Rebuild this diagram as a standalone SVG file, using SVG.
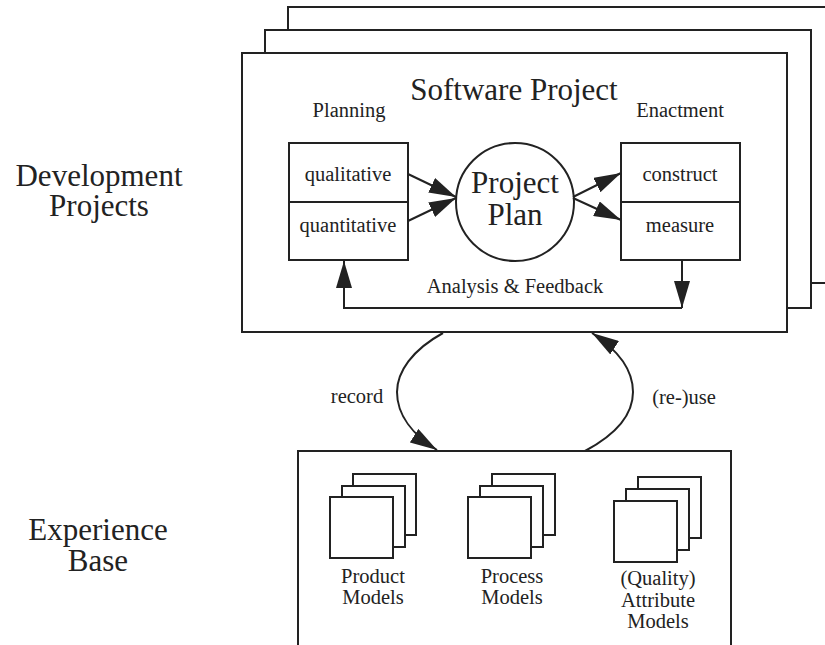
<svg xmlns="http://www.w3.org/2000/svg" width="825" height="645" viewBox="0 0 825 645">
  <defs>
    <style>
      .box { fill: #fff; stroke: #222; stroke-width: 2; }
      .line { fill: none; stroke: #222; stroke-width: 2; }
      text { fill: #222; text-anchor: middle; }
      .big { font-size: 31px; }
      .mid { font-size: 20.5px; }
    </style>
    <marker id="head" markerUnits="userSpaceOnUse" markerWidth="28" markerHeight="16" refX="27" refY="8" orient="auto">
      <path d="M0,0 L27,8 L0,16 z" fill="#222"/>
    </marker>
  </defs>
  <rect width="825" height="645" fill="#fff"/>

  <g font-family="'Liberation Serif', 'DejaVu Serif', serif">
  <!-- side captions -->
  <g id="caption-development">
    <text class="big" x="99" y="186">Development</text>
    <text class="big" x="99" y="216">Projects</text>
  </g>
  <g id="caption-experience">
    <text class="big" x="98" y="540">Experience</text>
    <text class="big" x="98" y="571">Base</text>
  </g>

  <!-- stacked project frames -->
  <g id="project-stack">
    <rect class="box" x="288" y="7" width="560" height="276"/>
    <rect class="box" x="265" y="30" width="546" height="278"/>
  </g>

  <g id="software-project">
    <rect class="box" x="242" y="53" width="545" height="279"/>
    <text class="big" x="514" y="100">Software Project</text>
    <text class="mid" x="349" y="117">Planning</text>
    <text class="mid" x="680" y="117">Enactment</text>
    <text class="mid" x="515" y="293">Analysis &amp; Feedback</text>
  </g>

  <g id="planning">
    <rect class="box" x="289" y="143" width="119" height="117"/>
    <line class="line" x1="289" y1="202" x2="408" y2="202"/>
    <text class="mid" x="348" y="181">qualitative</text>
    <text class="mid" x="348" y="232">quantitative</text>
  </g>

  <g id="project-plan">
    <circle class="box" cx="515" cy="202" r="59"/>
    <text class="big" x="515" y="193">Project</text>
    <text class="big" x="515" y="225">Plan</text>
  </g>

  <g id="enactment">
    <rect class="box" x="621" y="143" width="119" height="117"/>
    <line class="line" x1="621" y1="202" x2="740" y2="202"/>
    <text class="mid" x="680" y="181">construct</text>
    <text class="mid" x="680" y="232">measure</text>
  </g>

  <g id="experience-base">
    <path class="box" d="M298,660 V451 H731 V660"/>
    <g id="product-models">
      <rect class="box" x="353" y="474" width="63" height="61"/>
      <rect class="box" x="342" y="486" width="63" height="61"/>
      <rect class="box" x="330" y="497" width="63" height="61"/>
      <text class="mid" x="373" y="583">Product</text>
      <text class="mid" x="373" y="604">Models</text>
    </g>
    <g id="process-models">
      <rect class="box" x="492" y="474" width="63" height="61"/>
      <rect class="box" x="480" y="486" width="63" height="61"/>
      <rect class="box" x="468" y="497" width="63" height="61"/>
      <text class="mid" x="512" y="583">Process</text>
      <text class="mid" x="512" y="604">Models</text>
    </g>
    <g id="attribute-models">
      <rect class="box" x="638" y="477" width="63" height="61"/>
      <rect class="box" x="626" y="489" width="63" height="61"/>
      <rect class="box" x="614" y="501" width="63" height="61"/>
      <text class="mid" x="658" y="585">(Quality)</text>
      <text class="mid" x="658" y="607">Attribute</text>
      <text class="mid" x="658" y="628">Models</text>
    </g>
  </g>

  <g id="connectors">
    <line class="line" x1="408" y1="174" x2="456" y2="197" marker-end="url(#head)"/>
    <line class="line" x1="408" y1="221" x2="456" y2="198" marker-end="url(#head)"/>
    <line class="line" x1="573" y1="197" x2="621" y2="173" marker-end="url(#head)"/>
    <line class="line" x1="573" y1="198" x2="621" y2="220" marker-end="url(#head)"/>
    <line class="line" x1="682" y1="260" x2="682" y2="308" marker-end="url(#head)"/>
    <path class="line" d="M682,308 H344 V261" marker-end="url(#head)"/>
    <path class="line" d="M443,333 C412,350 397,372 397,392 C397,415 413,435 437,450" marker-end="url(#head)"/>
    <path class="line" d="M585,451 C615,435 633,415 633,392 C633,368 615,348 592,333" marker-end="url(#head)"/>
    <text class="mid" x="357" y="403">record</text>
    <text class="mid" x="684" y="404">(re-)use</text>
  </g>
  </g>
</svg>
